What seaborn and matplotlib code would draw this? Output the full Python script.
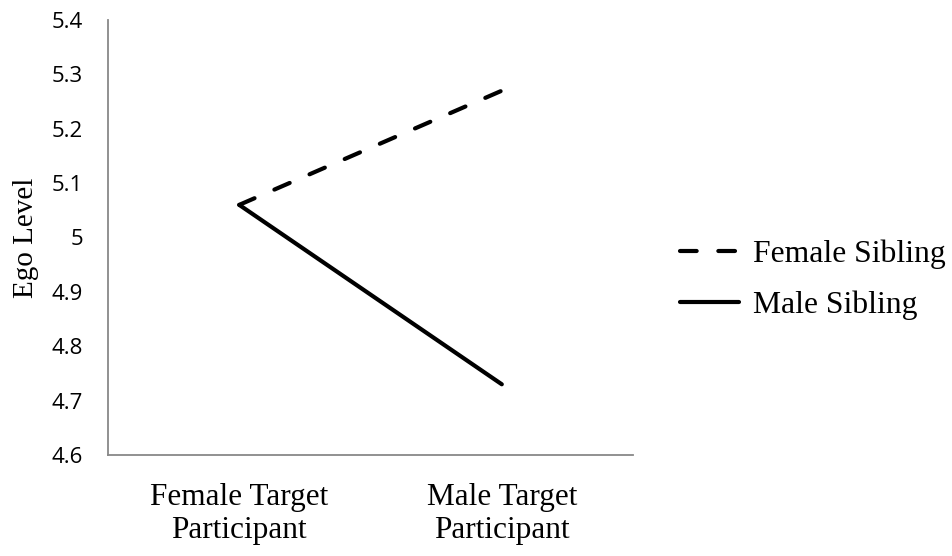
import pandas as pd
import numpy as np
import seaborn as sns
import matplotlib.pyplot as plt

###############################>DATA<###############################
targets = ['Female Target\nParticipant', 'Male Target\nParticipant']
siblings = ['Female Sibling', 'Male Sibling']
female_sibling = [5.06, 5.27]
male_sibling = [5.06, 4.73]
y_ticks = [4.6, 4.7, 4.8, 4.9, 5.0, 5.1, 5.2, 5.3, 5.4]
y_labels = ['4.6', '4.7', '4.8', '4.9', '5', '5.1', '5.2', '5.3', '5.4']

df = pd.DataFrame({
    'Target': targets * 2,
    'Sibling': [siblings[0]] * 2 + [siblings[1]] * 2,
    'Ego': female_sibling + male_sibling,
})

###############################>STYLE<###############################
sns.set_theme(style='white', rc={'text.color': 'black', 'axes.labelcolor': 'black',
                                 'xtick.color': 'black', 'ytick.color': 'black'})
serif = ['Liberation Serif', 'DejaVu Serif']
sans = ['Open Sans', 'Liberation Sans', 'DejaVu Sans']
dash = (4, 5.2)

fig = plt.figure(figsize=(9.52, 5.56), dpi=100)
ax = fig.add_axes([0.1134, 0.1817, 0.5516, 0.7823])

sns.lineplot(data=df, x='Target', y='Ego', hue='Sibling', style='Sibling',
             palette=['black', 'black'], dashes={'Female Sibling': dash, 'Male Sibling': ''},
             linewidth=3, sort=False, ax=ax, legend=False)
for ln in ax.lines:
    ln.set_dash_capstyle('round')
    ln.set_solid_capstyle('round')
    ln.set_solid_joinstyle('round')

ax.set_xlim(-0.5, 1.5)
ax.set_ylim(4.6, 5.4)
ax.set_yticks(y_ticks)
ax.set_yticklabels(y_labels, family=sans, fontsize=16)
ax.set_xticks([0, 1])
ax.set_xticklabels(targets, family=serif, fontsize=22.5, linespacing=1.2)
ax.tick_params(axis='y', length=0, pad=18)
ax.tick_params(axis='x', length=0, pad=20)
ax.set_xlabel('')
ax.set_ylabel('Ego Level', family=serif, fontsize=21, labelpad=9)

for side in ['top', 'right']:
    ax.spines[side].set_visible(False)
for side in ['left', 'bottom']:
    ax.spines[side].set_color('#888888')
    ax.spines[side].set_linewidth(1.3)

handles = [plt.Line2D([], [], color='black', lw=3, dashes=dash, dash_capstyle='round'),
           plt.Line2D([], [], color='black', lw=3, solid_capstyle='round')]
fig.legend(handles, siblings, loc='center left', bbox_to_anchor=(0.698, 0.497),
           frameon=False, prop={'family': serif, 'size': 22.8},
           handlelength=1.85, handletextpad=0.45, labelspacing=0.7, borderpad=0)

plt.savefig('out.png', dpi=100)
